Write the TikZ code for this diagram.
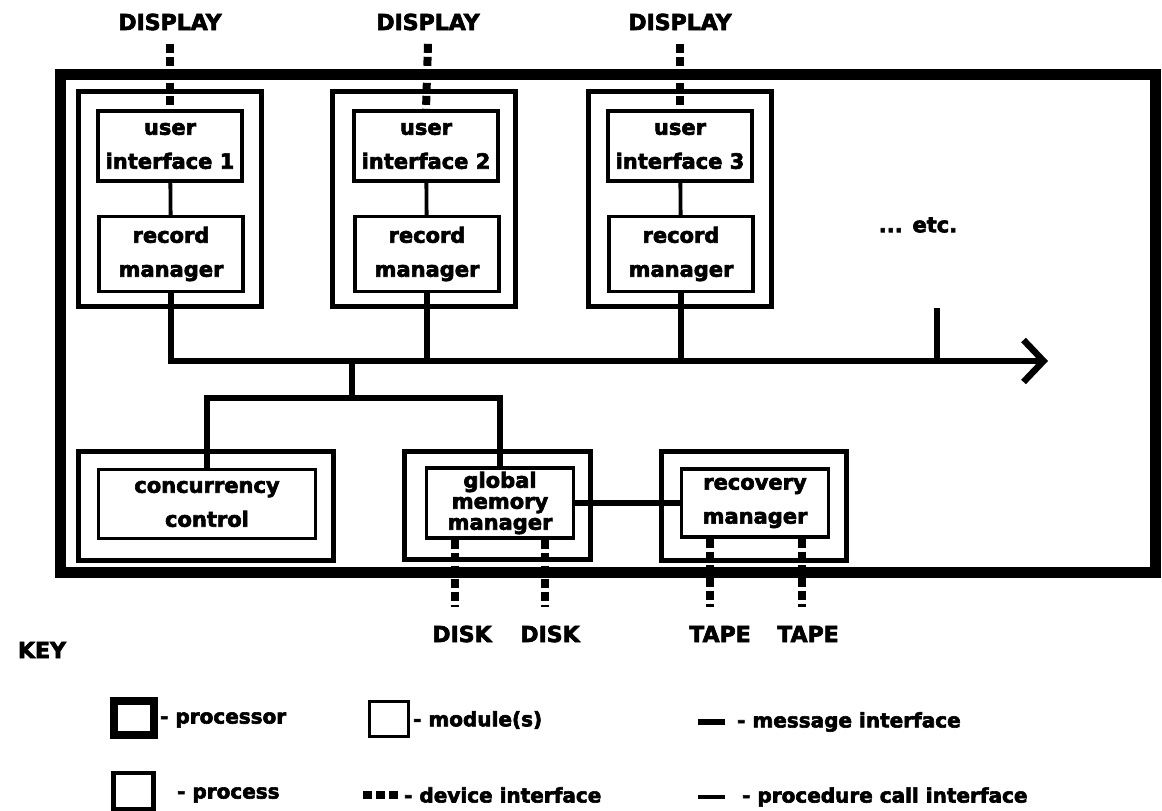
\documentclass[tikz,border=0pt]{standalone}
\usepackage{fontspec}
\setmainfont{DejaVu Sans}[BoldFeatures={FakeBold=3}]
\usetikzlibrary{arrows.meta}
\begin{document}
\begin{tikzpicture}[x=1pt,y=-1pt,
  txt/.style={font=\fontsize{21}{34}\selectfont\bfseries, align=center},
  processorbox/.style={draw, line width=11pt, inner sep=0pt},
  procbox/.style={draw, line width=5pt, inner sep=0pt},
  modbox/.style={draw, line width=3.2pt, inner sep=0pt, txt},
  msg/.style={line width=5.5pt},
  bus/.style={line width=6.5pt},
  pcall/.style={line width=3.8pt},
  dev/.style={line width=8pt, dash pattern=on 9pt off 4pt},
  lab/.style={font=\fontsize{22}{24}\selectfont\bfseries},
  keytxt/.style={font=\fontsize{20}{22}\selectfont\bfseries, anchor=west, inner sep=0pt}
]
\useasboundingbox (0,0) rectangle (1162,811);

% ---------- modules ----------
\node[modbox, minimum width=144pt, minimum height=70pt] (ui1) at (170,146) {user\\interface 1};
\node[modbox, minimum width=144pt, minimum height=75pt] (rm1) at (171,254) {record\\manager};
\node[modbox, minimum width=144pt, minimum height=70pt] (ui2) at (426,146) {user\\interface 2};
\node[modbox, minimum width=144pt, minimum height=75pt] (rm2) at (427,254) {record\\manager};
\node[modbox, minimum width=144pt, minimum height=70pt] (ui3) at (680,146) {user\\interface 3};
\node[modbox, minimum width=144pt, minimum height=75pt] (rm3) at (681,254) {record\\manager};

\node[modbox, minimum width=217pt, minimum height=69pt] (cc) at (207,504) {concurrency\\control};
\node[modbox, minimum width=147pt, minimum height=70pt, font=\fontsize{21}{21}\selectfont\bfseries] (gm) at (500,503) {global\\memory\\manager};
\node[modbox, minimum width=147pt, minimum height=68pt] (rec) at (755,503) {recovery\\manager};

% ---------- processes ----------
\node[procbox, minimum width=183pt, minimum height=215pt] (p1) at (170,198.5) {};
\node[procbox, minimum width=183pt, minimum height=215pt] (p2) at (424,198.5) {};
\node[procbox, minimum width=183pt, minimum height=215pt] (p3) at (680,198.5) {};
\node[procbox, minimum width=255pt, minimum height=109pt] (pc) at (206,506) {};
\node[procbox, minimum width=186pt, minimum height=108pt] (pg) at (497.5,505.5) {};
\node[procbox, minimum width=185pt, minimum height=109pt] (pr) at (754,506) {};

% ---------- displays ----------
\node[lab] (disp1) at (170,22) {DISPLAY};
\node[lab] (disp2) at (428,22) {DISPLAY};
\node[lab] (disp3) at (680,22) {DISPLAY};
\draw[dev] ([yshift=-10pt]disp1.south) -- (ui1.north);
\draw[dev] ([yshift=-10pt]disp2.south) -- (ui2.north);
\draw[dev] ([yshift=-10pt]disp3.south) -- (ui3.north);

% ---------- disks and tapes ----------
\coordinate (d1) at (455,607);
\coordinate (d2) at (545,607);
\coordinate (t1) at (710,607);
\coordinate (t2) at (802,607);
\draw[dev] (gm.south -| d1) -- (d1);
\draw[dev] (gm.south -| d2) -- (d2);
\draw[dev] (rec.south -| t1) -- (t1);
\draw[dev] (rec.south -| t2) -- (t2);
\node[lab] (disk1) at (462,634) {DISK};
\node[lab] (disk2) at (550,634) {DISK};
\node[lab] (tape1) at (720,634) {TAPE};
\node[lab] (tape2) at (808,634) {TAPE};

% ---------- processor frame ----------
\node[processorbox, minimum width=1095pt, minimum height=498pt] (cpu) at (607.5,323) {};

% ---------- connectors ----------
\draw[pcall] (ui1) -- (rm1);
\draw[pcall] (ui2) -- (rm2);
\draw[pcall] (ui3) -- (rm3);

\coordinate (busR) at (1048,361);
\coordinate (tick) at (937,308);
\coordinate (j1) at (352,361);
\coordinate (j2) at (352,398);
\draw[bus, -{Straight Barb[length=20pt,width=42pt]}] (rm1.south) |- (busR);
\draw[msg] (rm2.south) -- (rm2.south |- busR);
\draw[msg] (rm3.south) -- (rm3.south |- busR);
\draw[bus] (tick) -- (tick |- busR);
\draw[msg] (j1) -- (j2);
\draw[msg] (cc.north) |- (j2) -| (gm.north);
\draw[msg] (gm.east) -- (rec.west);

\node[txt] (etc) at (918,225) {... etc.};

% ---------- key ----------
\node[lab] (key) at (42,650) {KEY};
\node[draw, line width=8pt, minimum width=40pt, minimum height=34pt, inner sep=0pt] (kp) at (133.5,718) {};
\node[keytxt] (kpt) at (160,720) {- processor};
\node[draw, line width=3pt, minimum width=39pt, minimum height=35pt, inner sep=0pt] (km) at (389,719) {};
\node[keytxt] (kmt) at (413,720) {- module(s)};
\coordinate (kma) at (698,722);
\coordinate (kmb) at (725,722);
\draw[msg] (kma) -- (kmb);
\node[keytxt] (kmsg) at (737,722) {- message interface};

\node[draw, line width=4.5pt, minimum width=40pt, minimum height=36pt, inner sep=0pt] (kpr) at (133.5,791) {};
\node[keytxt] (kprt) at (177,795) {- process};
\coordinate (kda) at (363,795);
\coordinate (kdb) at (400,795);
\draw[dev] (kda) -- (kdb);
\node[keytxt] (kdt) at (404,795) {- device interface};
\coordinate (kpa) at (698,797);
\coordinate (kpb) at (725,797);
\draw[pcall] (kpa) -- (kpb);
\node[keytxt] (kpct) at (742,797) {- procedure call interface};
\end{tikzpicture}
\end{document}
